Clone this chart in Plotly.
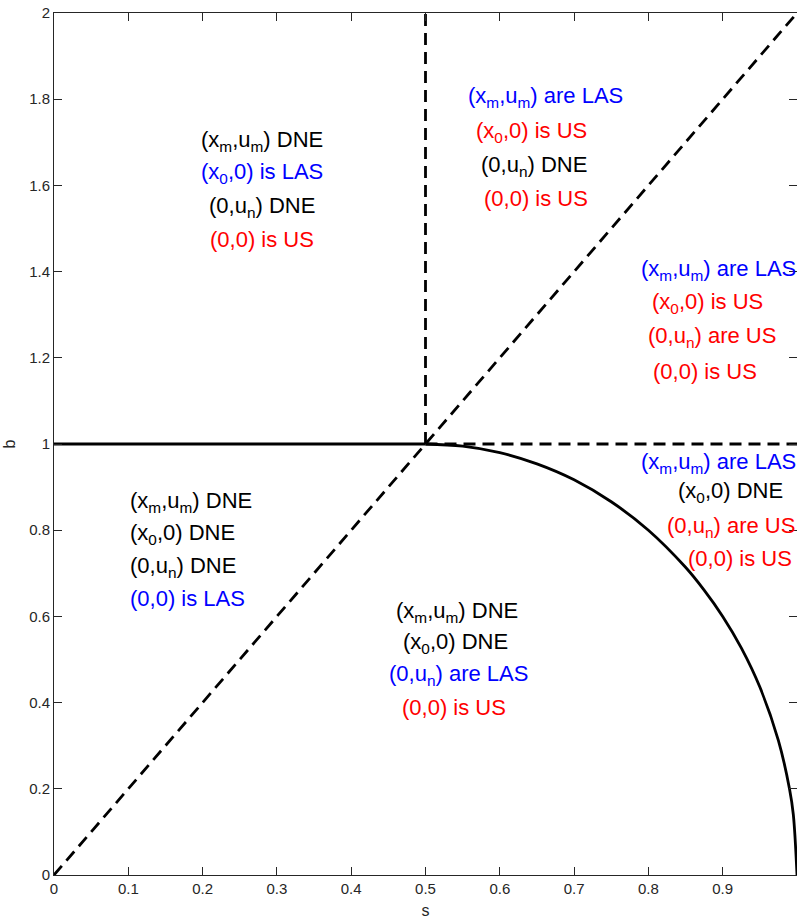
import plotly.graph_objects as go

# ---- data ----
diag_s = [0, 1]
diag_b = [0, 2]
vert_s = [0.5, 0.5]
vert_b = [1, 2]
hsolid_s = [0, 0.5]
hsolid_b = [1, 1]
hdash_s = [0.5, 1]
hdash_b = [1, 1]
curve_s = [0.5, 0.55, 0.6, 0.65, 0.7, 0.75, 0.8, 0.85, 0.875, 0.9, 0.925, 0.95, 0.975, 0.99, 0.995, 1.0]
curve_b = [1.0, 0.995, 0.98, 0.954, 0.917, 0.866, 0.8, 0.714, 0.661, 0.6, 0.527, 0.436, 0.312, 0.199, 0.141, 0.0]

BLK = "#000000"
BLU = "#0000FF"
RED = "#FF0000"

label_text = [
    # top-left
    "(x<sub>m</sub>,u<sub>m</sub>) DNE", "(x<sub>0</sub>,0) is LAS", "(0,u<sub>n</sub>) DNE", "(0,0) is US",
    # top-middle
    "(x<sub>m</sub>,u<sub>m</sub>) are LAS", "(x<sub>0</sub>,0) is US", "(0,u<sub>n</sub>) DNE", "(0,0) is US",
    # right
    "(x<sub>m</sub>,u<sub>m</sub>) are LAS", "(x<sub>0</sub>,0) is US", "(0,u<sub>n</sub>) are US", "(0,0) is US",
    # lower right
    "(x<sub>m</sub>,u<sub>m</sub>) are LAS", "(x<sub>0</sub>,0) DNE", "(0,u<sub>n</sub>) are US", "(0,0) is US",
    # lower left
    "(x<sub>m</sub>,u<sub>m</sub>) DNE", "(x<sub>0</sub>,0) DNE", "(0,u<sub>n</sub>) DNE", "(0,0) is LAS",
    # lower middle
    "(x<sub>m</sub>,u<sub>m</sub>) DNE", "(x<sub>0</sub>,0) DNE", "(0,u<sub>n</sub>) are LAS", "(0,0) is US",
]
label_color = [
    BLK, BLU, BLK, RED,
    BLU, RED, BLK, RED,
    BLU, RED, RED, RED,
    BLU, BLK, RED, RED,
    BLK, BLK, BLK, BLU,
    BLK, BLK, BLU, RED,
]
label_s = [
    0.28, 0.28, 0.28, 0.28,
    0.661, 0.643, 0.646, 0.649,
    0.894, 0.879, 0.885, 0.876,
    0.894, 0.911, 0.911, 0.923,
    0.0995, 0.0995, 0.0995, 0.0995,
    0.542, 0.540, 0.545, 0.538,
]
label_b = [
    1.704, 1.628, 1.551, 1.474,
    1.804, 1.725, 1.646, 1.569,
    1.404, 1.328, 1.249, 1.168,
    0.956, 0.889, 0.808, 0.734,
    0.866, 0.791, 0.715, 0.641,
    0.610, 0.538, 0.464, 0.388,
]
label_align = ["center"] * 16 + ["left"] * 4 + ["center"] * 4

x_ticks = [0, 0.1, 0.2, 0.3, 0.4, 0.5, 0.6, 0.7, 0.8, 0.9, 1]
y_ticks = [0, 0.2, 0.4, 0.6, 0.8, 1, 1.2, 1.4, 1.6, 1.8, 2]

# ---- figure ----
FONT = "Liberation Sans, Arial, sans-serif"
AX = "#262626"
LW = 2.8
DASH = "12px,7px"

fig = go.Figure()
fig.add_trace(go.Scatter(x=diag_s, y=diag_b, mode="lines",
                         line=dict(color="black", width=LW, dash=DASH), hoverinfo="skip"))
fig.add_trace(go.Scatter(x=vert_s, y=vert_b, mode="lines",
                         line=dict(color="black", width=LW, dash=DASH), hoverinfo="skip"))
fig.add_trace(go.Scatter(x=hdash_s, y=hdash_b, mode="lines",
                         line=dict(color="black", width=LW, dash=DASH), hoverinfo="skip"))
fig.add_trace(go.Scatter(x=hsolid_s, y=hsolid_b, mode="lines",
                         line=dict(color="black", width=LW), hoverinfo="skip"))
fig.add_trace(go.Scatter(x=curve_s, y=curve_b, mode="lines",
                         line=dict(color="black", width=LW, shape="spline", smoothing=1.0),
                         hoverinfo="skip"))

for t, c, s, b, a in zip(label_text, label_color, label_s, label_b, label_align):
    fig.add_annotation(x=s, y=b, text=t, showarrow=False, xref="x", yref="y",
                       xanchor=a, yanchor="middle", align=a,
                       font=dict(family=FONT, size=22, color=c))

axis_common = dict(
    showgrid=False, zeroline=False, showline=True, linecolor=AX, linewidth=1,
    mirror="ticks", ticks="inside", ticklen=8, tickwidth=1, tickcolor=AX,
    tickfont=dict(family=FONT, size=15, color=AX),
)

fig.update_xaxes(range=[0, 1], tickvals=x_ticks, ticktext=[f"{v:g}" for v in x_ticks],
                 title=dict(text="s", font=dict(family=FONT, size=16, color=AX), standoff=8),
                 **axis_common)
fig.update_yaxes(range=[0, 2], tickvals=y_ticks, ticktext=[f"{v:g}" for v in y_ticks],
                 title=dict(text="b", font=dict(family=FONT, size=16, color=AX), standoff=9),
                 **axis_common)

fig.update_layout(
    width=797, height=922,
    margin=dict(l=54, r=0, t=13, b=47, autoexpand=False),
    plot_bgcolor="white", paper_bgcolor="white",
    showlegend=False,
)

fig.write_html(
    "out.html",
    config={"displayModeBar": False},
    post_script="document.body.style.margin='0';document.body.style.padding='0';"
                "document.body.style.overflow='hidden';",
)
